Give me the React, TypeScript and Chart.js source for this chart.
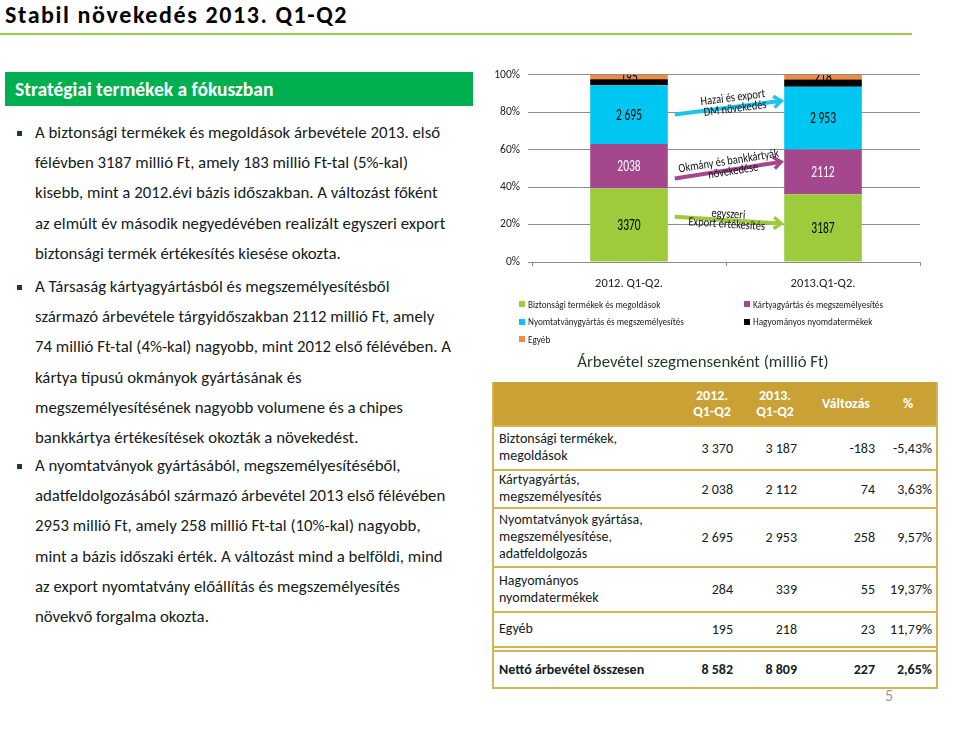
import React, { useEffect, useRef } from "react";
import { Chart, registerables } from "chart.js";

Chart.register(...registerables);

// ---------- DATA ----------
const categories = ["2012. Q1-Q2.", "2013.Q1-Q2."];
const seriesNames = [
  "Biztonsági termékek és megoldások",
  "Kártyagyártás és megszemélyesítés",
  "Nyomtatványgyártás és megszemélyesítés",
  "Hagyományos nyomdatermékek",
  "Egyéb",
];
const biztonsagi = [3370, 3187];
const kartya = [2038, 2112];
const nyomtatvany = [2695, 2953];
const hagyomanyos = [284, 339];
const egyeb = [195, 218];
const seriesValues = [biztonsagi, kartya, nyomtatvany, hagyomanyos, egyeb];
const yTicks = [0, 20, 40, 60, 80, 100];

const tableRowLabels = [
  ["Biztonsági termékek,", "megoldások"],
  ["Kártyagyártás,", "megszemélyesítés"],
  ["Nyomtatványok gyártása,", "megszemélyesítése,", "adatfeldolgozás"],
  ["Hagyományos", "nyomdatermékek"],
  ["Egyéb"],
];
const totalLabel = "Nettó árbevétel összesen";
const tableHeaders = [["2012.", "Q1-Q2"], ["2013.", "Q1-Q2"], ["Változás"], ["%"]];

const annotationTexts = [
  ["Hazai és export", "DM növekedés"],
  ["Okmány és bankkártyák", "növekedése"],
  ["egyszeri", "Export értékesítés"],
];
const annotationFrom = [78.8, 44.6, 24.2];
const annotationTo = [86.2, 53.7, 20.5];

const bullets = [
  [
    "A biztonsági termékek és megoldások árbevétele 2013. első",
    "félévben 3187 millió Ft, amely 183 millió Ft-tal (5%-kal)",
    "kisebb, mint a 2012.évi bázis időszakban. A változást főként",
    "az elmúlt év második negyedévében realizált egyszeri export",
    "biztonsági termék értékesítés kiesése okozta.",
  ],
  [
    "A Társaság kártyagyártásból és megszemélyesítésből",
    "származó árbevétele tárgyidőszakban 2112 millió Ft, amely",
    "74 millió Ft-tal (4%-kal) nagyobb, mint 2012 első félévében. A",
    "kártya típusú okmányok gyártásának és",
    "megszemélyesítésének nagyobb volumene és a chipes",
    "bankkártya értékesítések okozták a növekedést.",
  ],
  [
    "A nyomtatványok gyártásából, megszemélyesítéséből,",
    "adatfeldolgozásából származó árbevétel 2013 első félévében",
    "2953 millió Ft, amely 258 millió Ft-tal (10%-kal) nagyobb,",
    "mint a bázis időszaki érték. A változást mind a belföldi, mind",
    "az export nyomtatvány előállítás és megszemélyesítés",
    "növekvő forgalma okozta.",
  ],
];

// ---------- STYLE ----------
const seriesColors = ["#9DCB3C", "#A4478D", "#00C6F2", "#000000", "#F58A3F"];
const labelColors = ["#000", "#fff", "#000", null, "#000"];
const labelGrouped = [false, false, true, false, false];
const annotationColors = ["#1EC3EA", "#A4478D", "#9DCB3C"];
const GRID = "#8c8c8c";
const FONT = "Carlito, Lato, 'Open Sans', sans-serif";
const GOLD = "#C9A135";
const GOLDLINE = "#D4B556";
const TEXT = "#14211a";

const fmt = (n: number) => String(n).replace(/\B(?=(\d{3})+(?!\d))/g, " ");
const fmtPct = (x: number) => x.toFixed(2).replace(".", ",") + "%";

const labelsPlugin = {
  id: "segLabels",
  afterDatasetsDraw(chart: any) {
    const ctx = chart.ctx;
    const area = chart.chartArea;
    ctx.save();
    ctx.beginPath();
    ctx.rect(area.left, area.top, area.right - area.left, area.bottom - area.top);
    ctx.clip();
    ctx.font = `16px ${FONT}`;
    ctx.textAlign = "center";
    ctx.textBaseline = "middle";
    seriesValues.forEach((vals, k) => {
      const col = labelColors[k];
      if (!col) return;
      const meta = chart.getDatasetMeta(k);
      meta.data.forEach((el: any, i: number) => {
        const txt = labelGrouped[k] ? fmt(vals[i]) : String(vals[i]);
        ctx.save();
        ctx.translate(el.x, (el.y + el.base) / 2 + 1);
        ctx.scale(0.72, 1);
        ctx.fillStyle = col;
        ctx.fillText(txt, 0, 0);
        ctx.restore();
      });
    });
    ctx.restore();
  },
};

const arrowsPlugin = {
  id: "arrows",
  afterDatasetsDraw(chart: any) {
    const ctx = chart.ctx;
    const y = chart.scales.y;
    const meta = chart.getDatasetMeta(0);
    const b1 = meta.data[0];
    const b2 = meta.data[1];
    const textOffsets = [
      [[5, -9], [6, 2]],
      [[1, -8.5], [4, 2]],
      [[-1, -5.5], [-2, 4.5]],
    ];
    annotationTexts.forEach((lines, k) => {
      const x1 = b1.x + b1.width / 2 + 7;
      const x2 = b2.x - b2.width / 2 - 1;
      const y1 = y.getPixelForValue(annotationFrom[k]);
      const y2 = y.getPixelForValue(annotationTo[k]);
      const ang = Math.atan2(y2 - y1, x2 - x1);
      ctx.save();
      ctx.strokeStyle = annotationColors[k];
      ctx.lineWidth = 4;
      ctx.lineCap = "butt";
      ctx.beginPath();
      ctx.moveTo(x1, y1);
      ctx.lineTo(x2 - 3 * Math.cos(ang), y2 - 3 * Math.sin(ang));
      ctx.stroke();
      ctx.lineWidth = 3.5;
      ctx.lineJoin = "miter";
      const hl = 11;
      const ha = 0.55;
      ctx.beginPath();
      ctx.moveTo(x2 - hl * Math.cos(ang - ha), y2 - hl * Math.sin(ang - ha));
      ctx.lineTo(x2 - 2 * Math.cos(ang), y2 - 2 * Math.sin(ang));
      ctx.lineTo(x2 - hl * Math.cos(ang + ha), y2 - hl * Math.sin(ang + ha));
      ctx.stroke();
      const mx = (x1 + x2) / 2;
      const my = (y1 + y2) / 2;
      ctx.translate(mx, my);
      ctx.rotate(ang);
      ctx.fillStyle = "#111";
      ctx.font = `12.5px ${FONT}`;
      ctx.textAlign = "center";
      ctx.textBaseline = "middle";
      lines.forEach((t, j) => {
        const [dx, dy] = textOffsets[k][j];
        ctx.save();
        ctx.translate(dx, dy);
        ctx.scale(0.84, 1);
        ctx.fillText(t, 0, 0);
        ctx.restore();
      });
      ctx.restore();
    });
  },
};

function StackChart() {
  const ref = useRef<HTMLCanvasElement>(null);
  useEffect(() => {
    const totals = categories.map((_, i) => seriesValues.reduce((s, arr) => s + arr[i], 0));
    const chart = new Chart(ref.current as HTMLCanvasElement, {
      type: "bar",
      data: {
        labels: categories,
        datasets: seriesNames.map((name, k) => ({
          label: name,
          data: seriesValues[k].map((v, i) => (v / totals[i]) * 100),
          backgroundColor: seriesColors[k],
          borderWidth: 0,
          categoryPercentage: 0.8,
          barPercentage: 0.5,
        })),
      },
      options: {
        responsive: false,
        animation: false,
        devicePixelRatio: 1,
        layout: { padding: { top: 12, right: 20, left: 0, bottom: 0 } },
        plugins: { legend: { display: false }, tooltip: { enabled: false } },
        scales: {
          x: {
            stacked: true,
            grid: { drawOnChartArea: false, tickLength: 4, color: GRID },
            border: { color: GRID, width: 1 },
            ticks: { padding: 10, color: "#222", font: { family: FONT, size: 12.5 } },
            afterFit: (s: any) => {
              s.height = 38;
            },
          },
          y: {
            stacked: true,
            min: 0,
            max: 100,
            afterBuildTicks: (s: any) => {
              s.ticks = yTicks.map((v) => ({ value: v }));
            },
            ticks: {
              padding: 8,
              color: "#222",
              font: { family: FONT, size: 11.5 },
              callback: (v: any) => v + "%",
            },
            grid: { color: GRID, tickLength: 4 },
            border: { display: false },
            afterFit: (s: any) => {
              s.width = 52;
            },
          },
        },
      },
      plugins: [labelsPlugin, arrowsPlugin],
    } as any);
    return () => chart.destroy();
  }, []);
  return <canvas ref={ref} width={460} height={240} style={{ width: 460, height: 240, display: "block" }} />;
}

export default function App() {
  const lineH = 30.2;
  const bulletTops = [118, 272, 451];
  const rowTops = [426, 470, 508, 567, 612];
  const rowBottoms = [470, 508, 567, 612, 647];
  const colRight = [733, 797, 875, 932];
  const colCenter = [712, 775, 846, 908];
  const TL = 493;
  const TR = 937;
  const rows = tableRowLabels.map((lbl, r) => {
    const a = seriesValues[r][0];
    const b = seriesValues[r][1];
    return { lbl, vals: [fmt(a), fmt(b), fmt(b - a), fmtPct(((b - a) / a) * 100)] };
  });
  const tot0 = seriesValues.reduce((s, arr) => s + arr[0], 0);
  const tot1 = seriesValues.reduce((s, arr) => s + arr[1], 0);
  const totVals = [fmt(tot0), fmt(tot1), fmt(tot1 - tot0), fmtPct(((tot1 - tot0) / tot0) * 100)];

  const hline = (y: number, key: string, h = 2) => (
    <div key={key} style={{ position: "absolute", left: TL, width: TR - TL, top: y - 1, height: h, background: GOLDLINE }} />
  );

  return (
    <div style={{ position: "fixed", left: 0, top: 0, width: 960, height: 729, background: "#fff", overflow: "hidden", fontFamily: FONT, color: TEXT }}>
      {/* title */}
      <div style={{ position: "absolute", left: 5, top: 0, fontSize: 24, fontWeight: 700, color: "#000", lineHeight: "29px", letterSpacing: 1.6, whiteSpace: "nowrap" }}>
        Stabil növekedés 2013. Q1-Q2
      </div>
      <div style={{ position: "absolute", left: 0, top: 33, width: 912, height: 1.5, background: "#9DC84A" }} />
      {/* green header */}
      <div style={{ position: "absolute", left: 5, top: 72, width: 468, height: 34, background: "#00B050", color: "#fff", fontWeight: 700, fontSize: 19.5, lineHeight: "34px", paddingLeft: 10, boxSizing: "border-box", whiteSpace: "nowrap" }}>
        Stratégiai termékek a fókuszban
      </div>
      {/* bullets */}
      {bullets.map((lines, b) => (
        <div key={b} style={{ position: "absolute", left: 35, top: bulletTops[b], fontSize: 16.8, lineHeight: lineH + "px", whiteSpace: "nowrap" }}>
          <div style={{ position: "absolute", left: -18, top: lineH / 2 - 2.5, width: 5, height: 5, background: "#1c3f22" }} />
          {lines.map((l, i) => (
            <div key={i}>{l}</div>
          ))}
        </div>
      ))}
      {/* chart */}
      <div style={{ position: "absolute", left: 480, top: 60 }}>
        <StackChart />
      </div>
      {/* legend */}
      {seriesNames.map((n, k) => {
        const col = k % 2;
        const row = Math.floor(k / 2);
        return (
          <div key={n} style={{ position: "absolute", left: col === 0 ? 519 : 744, top: 304 + row * 17.5 - 7, height: 14, display: "flex", alignItems: "center", fontSize: 10.8, color: "#222", whiteSpace: "nowrap" }}>
            <div style={{ width: 6, height: 6, background: seriesColors[k], marginRight: 3 }} />
            <span style={{ display: "inline-block", transform: "scaleX(0.85)", transformOrigin: "left center" }}>{n}</span>
          </div>
        );
      })}
      {/* chart title */}
      <div style={{ position: "absolute", left: 480, width: 446, top: 352, textAlign: "center", fontSize: 16.8, color: "#1d3a20", whiteSpace: "nowrap", lineHeight: "20px" }}>
        Árbevétel szegmensenként (millió Ft)
      </div>
      {/* table */}
      <div style={{ position: "absolute", left: TL, top: 382, width: TR - TL, height: 44, background: GOLD }} />
      {tableHeaders.map((h, c) => (
        <div key={c} style={{ position: "absolute", left: colCenter[c] - 40, width: 80, top: 382, height: 44, display: "flex", flexDirection: "column", justifyContent: "center", alignItems: "center", color: "#fff", fontWeight: 700, fontSize: 14, lineHeight: "16.5px" }}>
          {h.map((t, i) => (
            <div key={i}>{t}</div>
          ))}
        </div>
      ))}
      {rows.map((r, i) => (
        <React.Fragment key={i}>
          <div style={{ position: "absolute", left: TL + 6, top: rowTops[i], height: rowBottoms[i] - rowTops[i], display: "flex", flexDirection: "column", justifyContent: "center", fontSize: 14, lineHeight: "16.7px", whiteSpace: "nowrap" }}>
            {r.lbl.map((t, j) => (
              <div key={j}>{t}</div>
            ))}
          </div>
          {r.vals.map((v, c) => (
            <div key={c} style={{ position: "absolute", right: 960 - colRight[c], top: rowTops[i], height: rowBottoms[i] - rowTops[i], display: "flex", alignItems: "center", fontSize: 14, whiteSpace: "nowrap" }}>
              {v}
            </div>
          ))}
        </React.Fragment>
      ))}
      <div style={{ position: "absolute", left: TL + 6, top: 651, height: 37, display: "flex", alignItems: "center", fontSize: 14, fontWeight: 700, whiteSpace: "nowrap" }}>
        {totalLabel}
      </div>
      {totVals.map((v, c) => (
        <div key={c} style={{ position: "absolute", right: 960 - colRight[c], top: 651, height: 37, display: "flex", alignItems: "center", fontSize: 14, fontWeight: 700, whiteSpace: "nowrap" }}>
          {v}
        </div>
      ))}
      {[426, 470, 508, 567, 612, 647, 651, 688].map((y, i) => hline(y, "h" + i))}
      <div style={{ position: "absolute", left: TL - 1, top: 382, width: 2, height: 307, background: GOLDLINE }} />
      <div style={{ position: "absolute", left: TR - 1, top: 382, width: 2, height: 307, background: GOLDLINE }} />
      <div style={{ position: "absolute", left: 885, top: 686, fontSize: 16, color: "#9a9a9a" }}>5</div>
    </div>
  );
}
